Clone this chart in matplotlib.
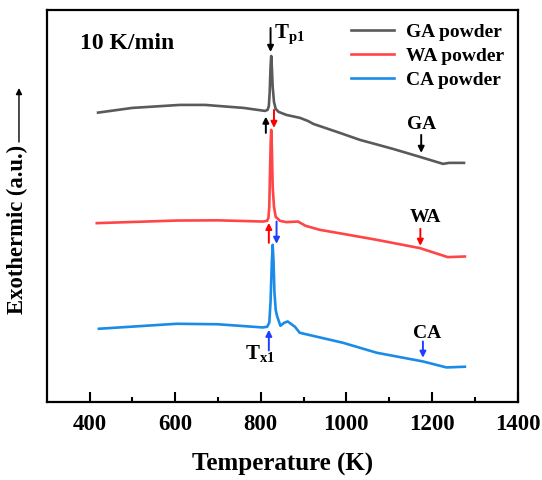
import numpy as np
import matplotlib.pyplot as plt

plt.rcParams['font.family'] = ['Liberation Serif', 'DejaVu Serif']
plt.rcParams['font.weight'] = 'bold'
plt.rcParams['mathtext.fontset'] = 'custom'
plt.rcParams['mathtext.rm'] = 'Liberation Serif:bold'
plt.rcParams['mathtext.bf'] = 'Liberation Serif:bold'

# DSC traces, 10 K/min (signal in arbitrary units, curves offset)
T_ga = [420, 500, 611, 670, 760, 810, 816, 819, 821, 823, 824.5, 826, 828, 831, 835, 842,
        860, 892, 910, 923, 985, 1032, 1109, 1172, 1226, 1240, 1275]
s_ga = [289.3, 294, 297, 297, 294, 291, 292, 296, 310, 335, 346, 335, 315, 300, 293, 290,
        287, 284, 281, 278, 269, 262, 253, 245, 238, 239, 239]

T_wa = [417, 604, 700, 805, 815, 818, 820, 822, 823.5, 824.5, 826, 828, 831, 835, 845,
        860, 887, 905, 938, 992, 1071, 1172, 1237, 1277]
s_wa = [178.7, 181.3, 181.5, 180.3, 181, 184, 195, 235, 262, 272, 255, 215, 195, 185, 181,
        179.7, 180.3, 176, 172, 168, 162, 153.7, 144.7, 145.3]

T_ca = [422, 604, 700, 805, 815, 820, 823, 826, 828, 830, 832, 835, 838, 846, 855, 863,
        880, 891, 992, 1071, 1179, 1234, 1277]
s_ca = [73, 78, 77.5, 74.3, 75, 79, 100, 140, 157, 140, 110, 92, 86, 76, 79, 80.3,
        75, 69, 59, 49, 40.3, 34.3, 35]

# arrows: (temperature, tail, head, colour)
arrows = [
    (823, 374, 350, 'black'),
    (812, 269, 285.3, 'black'),
    (831, 292, 274, 'red'),
    (819, 159, 179, 'red'),
    (837, 180.3, 158, '#1f3fff'),
    (819, 51.3, 72, '#1f3fff'),
    (1175, 267, 249, 'black'),
    (1173, 173, 156, 'red'),
    (1179, 60.3, 44, '#1f3fff'),
]

fig = plt.figure(figsize=(5.42, 4.8), dpi=100)
ax = fig.add_axes([0.0862, 0.1631, 0.8686, 0.8161])

ax.plot(T_ga, s_ga, color='#5a5a5a', lw=1.9, label='GA powder')
ax.plot(T_wa, s_wa, color='#ff4545', lw=1.9, label='WA powder')
ax.plot(T_ca, s_ca, color='#1a8ce8', lw=1.9, label='CA powder')

for t, y0, y1, c in arrows:
    ax.annotate('', xy=(t, y1), xytext=(t, y0),
                arrowprops=dict(arrowstyle='-|>', color=c, lw=1.4, mutation_scale=9,
                                shrinkA=0, shrinkB=0))

ax.text(1177, 277, 'GA', fontsize=14, ha='center', va='center')
ax.text(1184, 184, 'WA', fontsize=14, ha='center', va='center')
ax.text(1188, 68, 'CA', fontsize=14, ha='center', va='center')
ax.text(832, 367, r'T$_{\mathbf{p1}}$', fontsize=15, ha='left', va='center')
ax.text(798, 48, r'T$_{\mathbf{x1}}$', fontsize=15, ha='center', va='center')
ax.text(0.07, 0.915, '10 K/min', transform=ax.transAxes, fontsize=17, va='center')

ax.set_xlim(300, 1400)
ax.set_ylim(0, 392)
ax.set_xticks([400, 600, 800, 1000, 1200, 1400])
ax.set_xticks([500, 700, 900, 1100, 1300], minor=True)
ax.set_yticks([])
ax.tick_params(axis='x', which='major', direction='in', length=7, width=1.5,
               labelsize=16.5, pad=9)
ax.tick_params(axis='x', which='minor', direction='in', length=3.5, width=1.5)
for sp in ax.spines.values():
    sp.set_linewidth(1.6)

ax.set_xlabel('Temperature (K)', fontsize=18, fontweight='bold', labelpad=13)
fig.text(0.032, 0.523, 'Exothermic (a.u.)', rotation=90, fontsize=16.3,
         ha='center', va='center', fontweight='bold')
ax.annotate('', xy=(0.035, 1 - 88 / 480), xytext=(0.035, 1 - 142 / 480),
            xycoords='figure fraction',
            arrowprops=dict(arrowstyle='-|>', color='black', lw=1.0, mutation_scale=9,
                            shrinkA=0, shrinkB=0))

ax.legend(loc='upper right', frameon=False, fontsize=14, handlelength=2.2,
          handletextpad=0.6, labelspacing=0.32, borderaxespad=0.3,
          bbox_to_anchor=(1.0, 1.0))

fig.savefig('out.png', dpi=100)
